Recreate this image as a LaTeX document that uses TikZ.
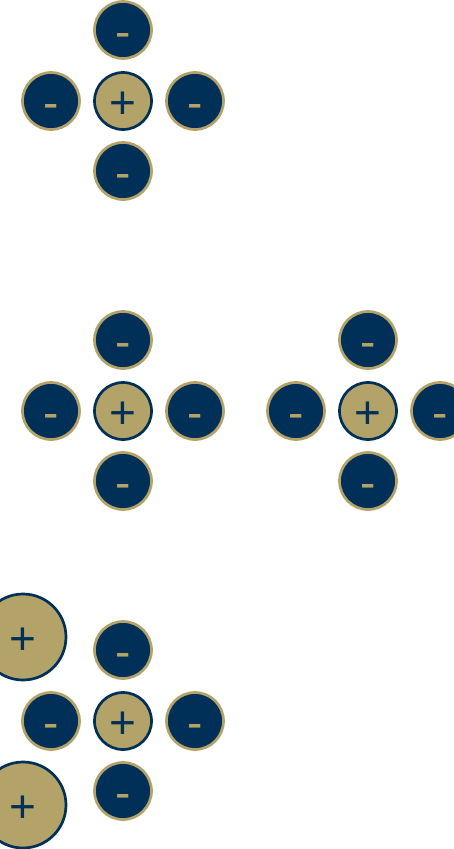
\documentclass[tikz,border=0pt]{standalone}
\usepackage{fontspec}
\setmainfont{Liberation Sans}
\usepackage{xcolor}
\usetikzlibrary{positioning}

\definecolor{gtnavy}{HTML}{003057}
\definecolor{gtgold}{HTML}{B3A369}

\begin{document}
\begin{tikzpicture}[
    x=1pt, y=-1pt,
    charge/.style={circle,minimum size=57pt,inner sep=0pt,line width=2.7pt,
                   font=\fontsize{46}{46}\selectfont,text height=35pt,text depth=0pt},
    anion/.style={charge,fill=gtnavy,draw=gtgold,text=gtgold},
    cation/.style={charge,fill=gtgold,draw=gtnavy,text=gtnavy},
    bigcation/.style={cation,minimum size=86pt},
  ]
  \useasboundingbox (0,0) rectangle (454,849);

  % --- top: one ion with its four neighbours ---
  \node[cation] (c1) at (123,101) {+};
  \node[anion] (c1n) at (123,30)  {-};
  \node[anion] (c1w) at (51,101)  {-};
  \node[anion] (c1e) at (195,101) {-};
  \node[anion] (c1s) at (123,171) {-};

  % --- middle: two such groups side by side ---
  \node[cation] (c2) at (123,411) {+};
  \node[anion] (c2n) at (123,340) {-};
  \node[anion] (c2w) at (51,411)  {-};
  \node[anion] (c2e) at (195,411) {-};
  \node[anion] (c2s) at (123,481) {-};

  \node[cation] (c3) at (368,411) {+};
  \node[anion] (c3n) at (368,340) {-};
  \node[anion] (c3w) at (296,411) {-};
  \node[anion] (c3e) at (440,411) {-};
  \node[anion] (c3s) at (368,481) {-};

  % --- bottom: the group with two large ions at the left edge ---
  \node[cation] (c4) at (123,721) {+};
  \node[anion] (c4n) at (123,650) {-};
  \node[anion] (c4w) at (51,721)  {-};
  \node[anion] (c4e) at (195,721) {-};
  \node[anion] (c4s) at (123,791) {-};

  \node[bigcation] (b1) at (23,637) {+};
  \node[bigcation] (b2) at (23,805) {+};

\end{tikzpicture}
\end{document}
